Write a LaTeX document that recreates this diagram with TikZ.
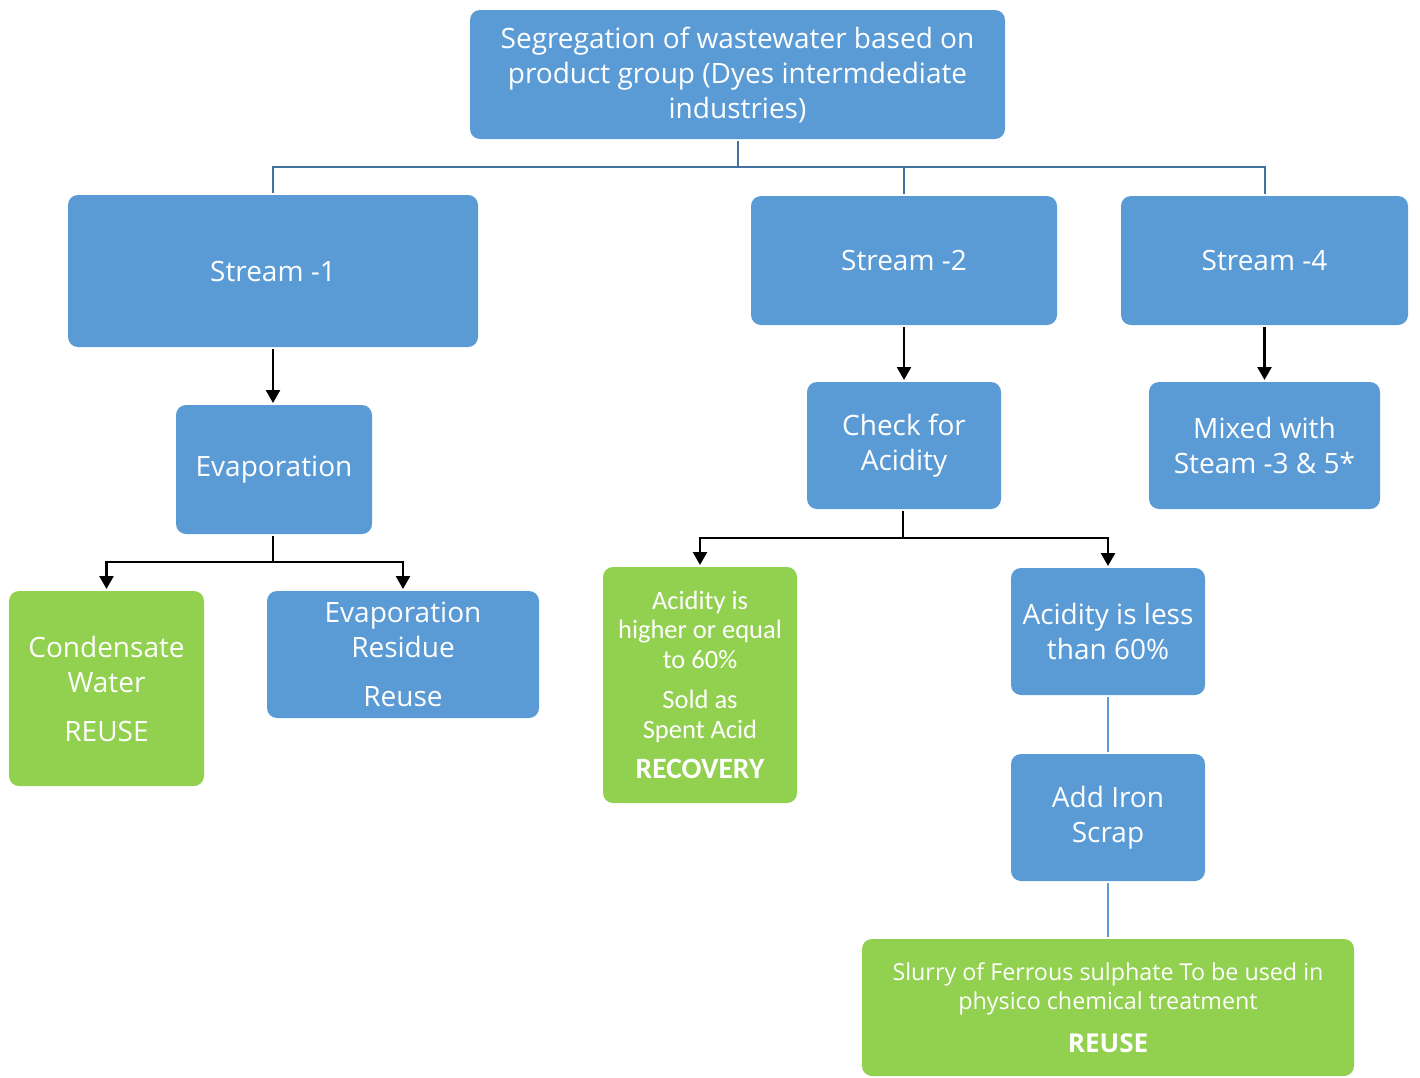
\documentclass[tikz,border=0pt]{standalone}
\usepackage{fontspec}
\setmainfont{Open Sans}
\newfontfamily\calib{Carlito}
\usetikzlibrary{arrows.meta}
\definecolor{boxblue}{HTML}{5B9BD5}
\definecolor{boxgreen}{HTML}{92D050}
\definecolor{busblue}{HTML}{41719C}
\tikzset{
  box/.style={rounded corners=10pt, fill=boxblue, draw=none, text=white, align=center,
    inner sep=0pt, outer sep=2pt, font=\fontsize{28}{35}\selectfont},
  gbox/.style={box, fill=boxgreen},
  small/.style={font=\calib\fontsize{26.5}{29.5}\selectfont},
  slur/.style={font=\fontsize{23.3}{29.5}\selectfont},
  bus/.style={draw=busblue, line width=2pt},
  thin/.style={draw=boxblue, line width=2.5pt},
  arr/.style={draw=black, line width=2.5pt, -{Triangle[width=14pt,length=13pt]}},
}
\begin{document}
\begin{tikzpicture}[x=1pt, y=-1pt]
\useasboundingbox (0,0) rectangle (1420,1077);
\clip (0,0) rectangle (1420,1077);
\node[box, minimum width=535pt, minimum height=129pt] (top) at (737.5,74.5)
  {Segregation of wastewater based on\\product group (Dyes intermdediate\\industries)};
\node[box, minimum width=410pt, minimum height=152pt] (s1) at (273,271) {Stream -1};
\node[box, minimum width=306pt, minimum height=129pt] (s2) at (904,260.5) {Stream -2};
\node[box, minimum width=287pt, minimum height=129pt] (s4) at (1264.5,260.5) {Stream -4};
\node[box, minimum width=196pt, minimum height=129pt] (evap) at (274,469.5) {Evaporation};
\node[gbox, minimum width=195pt, minimum height=195pt] (cond) at (106.5,688.5)
  {Condensate\\Water\\[14pt]REUSE};
\node[box, minimum width=272pt, minimum height=127pt] (res) at (403,654.5)
  {Evaporation\\Residue\\[14pt]Reuse};
\node[box, minimum width=194pt, minimum height=127pt] (chk) at (904,445.5) {Check for\\Acidity};
\node[box, minimum width=231pt, minimum height=127pt] (mix) at (1264.5,445.5) {Mixed with\\Steam -3 \& 5*};
\node[gbox, small, minimum width=194pt, minimum height=236pt] (high) at (700,685)
  {Acidity is\\higher or equal\\to 60\%\\[11pt]Sold as\\Spent Acid\\[11pt]{\fontsize{29.5}{30}\selectfont\bfseries RECOVERY}};
\node[box, minimum width=194pt, minimum height=127pt] (less) at (1108,631.5) {Acidity is less\\than 60\%};
\node[box, minimum width=194pt, minimum height=127pt] (iron) at (1108,817.5) {Add Iron\\Scrap};
\node[gbox, slur, minimum width=492pt, minimum height=137pt] (slurry) at (1108,1007.5)
  {Slurry of Ferrous sulphate To be used in\\physico chemical treatment\\[13pt]{\fontsize{26}{30}\selectfont\bfseries REUSE}};
% bus from top
\coordinate (busy) at (738,167);
\draw[bus] (top.south) -- (top.south |- busy) -| (s1.north);
\draw[bus] (top.south |- busy) -| (s2.north);
\draw[bus] (top.south |- busy) -| (s4.north);
% arrows
\draw[arr] (s1.south) -- (evap.north -| s1.south);
\draw[arr] (s2.south) -- (chk.north -| s2.south);
\draw[arr] (s4.south) -- (mix.north -| s4.south);
\coordinate (evf) at (273,562);
\draw[arr] (evap.south -| evf) -- (evf) -| (cond.north);
\draw[arr] (evf) -| (res.north);
\coordinate (chf) at (903,538);
\draw[arr] (chk.south -| chf) -- (chf) -| (high.north);
\draw[arr] (chf) -| (less.north);
% thin blue links
\draw[thin] (less.south) -- (iron.north);
\draw[thin] (iron.south) -- (slurry.north);
\end{tikzpicture}
\end{document}
